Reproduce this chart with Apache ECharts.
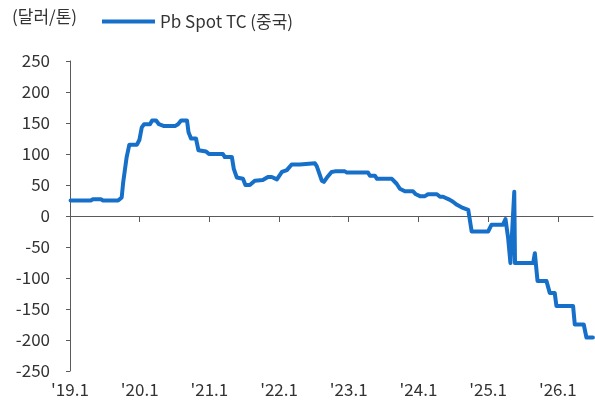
<!DOCTYPE html>
<html>
<head>
<meta charset="utf-8">
<script src="https://cdn.jsdelivr.net/npm/echarts@6/dist/echarts.min.js"></script>
<style>
  html, body { margin: 0; padding: 0; background: #fff; }
  #chart { width: 595px; height: 405px; }
</style>
</head>
<body>
<div id="chart"></div>
<script>
// Pb Spot TC (중국), 달러/톤
var dates = [
  '2019-01-04', '2019-04-20', '2019-05-01', '2019-06-12', '2019-06-23', '2019-09-10',
  '2019-09-20', '2019-09-29', '2019-10-07', '2019-10-25', '2019-11-08', '2019-12-18',
  '2019-12-31', '2020-01-12', '2020-01-24', '2020-02-24', '2020-03-06', '2020-03-27',
  '2020-04-11', '2020-05-08', '2020-07-04', '2020-07-20', '2020-08-05', '2020-09-05',
  '2020-09-13', '2020-09-26', '2020-10-22', '2020-11-04', '2020-12-14', '2020-12-29',
  '2021-03-13', '2021-03-23', '2021-04-29', '2021-05-09', '2021-05-25', '2021-06-26',
  '2021-07-09', '2021-08-01', '2021-08-27', '2021-10-08', '2021-11-04', '2021-11-24',
  '2021-12-21', '2022-01-16', '2022-02-11', '2022-03-08', '2022-04-20', '2022-04-25',
  '2022-07-08', '2022-07-18', '2022-08-13', '2022-08-24', '2022-09-09', '2022-10-03',
  '2022-10-21', '2022-12-12', '2022-12-23', '2023-04-12', '2023-04-22', '2023-05-18',
  '2023-05-29', '2023-08-15', '2023-09-09', '2023-09-26', '2023-10-22', '2023-12-03',
  '2023-12-19', '2024-01-09', '2024-02-04', '2024-02-20', '2024-04-07', '2024-04-23',
  '2024-05-09', '2024-06-14', '2024-06-30', '2024-07-21', '2024-08-21', '2024-09-18',
  '2024-10-06', '2025-01-01', '2025-01-19', '2025-03-20', '2025-04-02', '2025-04-16',
  '2025-04-28', '2025-05-18', '2025-05-22', '2025-08-25', '2025-09-03', '2025-09-17',
  '2025-11-03', '2025-11-20', '2025-12-16', '2025-12-25', '2026-03-22', '2026-03-31',
  '2026-05-17', '2026-05-31', '2026-07-04'
];
var values = [
  25, 25, 27, 27, 25, 25,
  28, 30, 55, 95, 115, 115,
  123, 143, 148, 148, 154, 154,
  148, 145, 145, 148, 154, 154,
  135, 125, 125, 106, 104, 100,
  100, 95, 95, 76, 62, 60,
  50, 50, 57, 58, 63, 63,
  59, 71, 74, 83, 83, 85,
  85, 80, 57, 55, 62, 71,
  72, 72, 70, 70, 65, 65,
  60, 60, 52, 44, 40, 40,
  35, 32, 32, 35, 35, 31,
  31, 26, 23, 18, 13, 10,
  -25, -25, -14, -14, -5, -36,
  -76, 39, -76, -76, -60, -105,
  -105, -124, -124, -145, -145, -175,
  -175, -196, -196
];
var yearTicks = [2019, 2020, 2021, 2022, 2023, 2024, 2025, 2026];
var seriesName = 'Pb Spot TC (중국)';
var unitLabel = '(달러/톤)';

function toYear(s) {
  var d = new Date(s + 'T00:00:00Z');
  var y = d.getUTCFullYear();
  return y + (d.getTime() - Date.UTC(y, 0, 1)) / (365.25 * 864e5);
}

var points = dates.map(function (d, i) { return [toYear(d), values[i]]; });

var FONT = '"Noto Sans CJK KR", "Noto Sans", sans-serif';
var AXIS_COLOR = '#5a5a5a';
var LINE_COLOR = '#1670c9';
var xMin = 2019, xMax = 2026.505;

var chart = echarts.init(document.getElementById('chart'));
chart.setOption({
  animation: false,
  textStyle: { fontFamily: FONT },
  title: {
    text: unitLabel,
    left: 12,
    top: 8,
    padding: 0,
    textStyle: { fontSize: 17, fontWeight: 'normal', color: '#333', fontFamily: FONT }
  },
  legend: {
    left: 102,
    top: 13,
    padding: 0,
    icon: 'rect',
    itemWidth: 53,
    itemHeight: 4,
    itemGap: 5,
    textStyle: { fontSize: 17, color: '#333', fontFamily: FONT },
    data: [seriesName]
  },
  grid: { left: 70, right: 2, top: 61, bottom: 34, containLabel: false },
  xAxis: [
    {
      type: 'value',
      min: xMin,
      max: xMax,
      axisLine: { onZero: true, lineStyle: { color: AXIS_COLOR, width: 1 } },
      axisTick: { show: true, length: 6, customValues: yearTicks, lineStyle: { color: AXIS_COLOR } },
      axisLabel: { show: false },
      splitLine: { show: false }
    },
    {
      type: 'value',
      min: xMin,
      max: xMax,
      position: 'bottom',
      axisLine: { show: false, onZero: false },
      axisTick: { show: false },
      splitLine: { show: false },
      axisLabel: {
        customValues: yearTicks,
        margin: 10,
        fontSize: 17,
        color: '#333',
        fontFamily: FONT,
        formatter: function (v) { return "'" + (Math.round(v) - 2000) + '.1'; }
      }
    }
  ],
  yAxis: {
    type: 'value',
    min: -250,
    max: 250,
    interval: 50,
    axisLine: { show: true, lineStyle: { color: AXIS_COLOR, width: 1 } },
    axisTick: { show: true, length: 4, lineStyle: { color: AXIS_COLOR } },
    axisLabel: { margin: 20, fontSize: 17, color: '#333', fontFamily: FONT },
    splitLine: { show: false }
  },
  series: [
    {
      name: seriesName,
      type: 'line',
      xAxisIndex: 0,
      data: points,
      showSymbol: false,
      symbol: 'none',
      color: LINE_COLOR,
      lineStyle: { width: 4, color: LINE_COLOR, join: 'round', cap: 'round' }
    }
  ]
});
</script>
</body>
</html>
